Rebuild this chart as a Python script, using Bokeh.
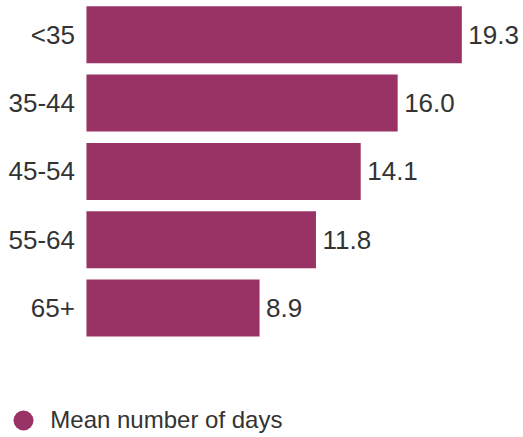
from bokeh.plotting import figure
from bokeh.models import Range1d, ColumnDataSource, Legend, LegendItem
from bokeh.core.properties import value
from bokeh.embed import file_html
from bokeh.resources import INLINE

categories = ["<35", "35-44", "45-54", "55-64", "65+"]
values = [19.3, 16.0, 14.1, 11.8, 8.9]
value_labels = [f"{v:.1f}" for v in values]
series_name = "Mean number of days"

BAR_COLOR = "#993366"
TEXT_COLOR = "#333333"
FONT = "Liberation Sans"

n = len(categories)
positions = [n - 1 - i for i in range(n)]  # first category at the top

src = ColumnDataSource(dict(cat=categories, pos=positions, val=values, lab=value_labels))

p = figure(
    width=523, height=437,
    output_backend="svg", toolbar_location=None,
    x_range=Range1d(-4.42, 22.47),
    y_range=Range1d(-1.896, 4.502),
    min_border=0,
)
p.xaxis.visible = False
p.yaxis.visible = False
p.xgrid.grid_line_color = None
p.ygrid.grid_line_color = None
p.outline_line_color = None
p.background_fill_color = "white"
p.border_fill_color = "white"

p.hbar(y="pos", left=0, right="val", height=0.835, source=src,
       fill_color=BAR_COLOR, line_color=None)

p.text(x=0, y="pos", text="cat", source=src, x_offset=-11.5,
       text_align="right", text_baseline="middle",
       text_font=value(FONT), text_font_size="26px", text_color=TEXT_COLOR)

p.text(x="val", y="pos", text="lab", source=src, x_offset=6.5,
       text_align="left", text_baseline="middle",
       text_font=value(FONT), text_font_size="26px", text_color=TEXT_COLOR)

# legend-only marker: zero size in the plot, legend glyph sized by the legend box
legend_marker = p.scatter(x="val", y="pos", source=src, size=0,
                          marker="circle", fill_color=BAR_COLOR, line_color=None)

legend = Legend(
    items=[LegendItem(label=series_name, renderers=[legend_marker])],
    location=(-1.7, -8.3),
    glyph_width=50, glyph_height=50,
    padding=0, margin=0, spacing=0,
    label_standoff=2,
    label_text_font=FONT, label_text_font_size="24px", label_text_color=TEXT_COLOR,
    border_line_color=None, background_fill_alpha=0,
)
p.add_layout(legend, "center")

open("out.html", "w").write(file_html(p, INLINE))
